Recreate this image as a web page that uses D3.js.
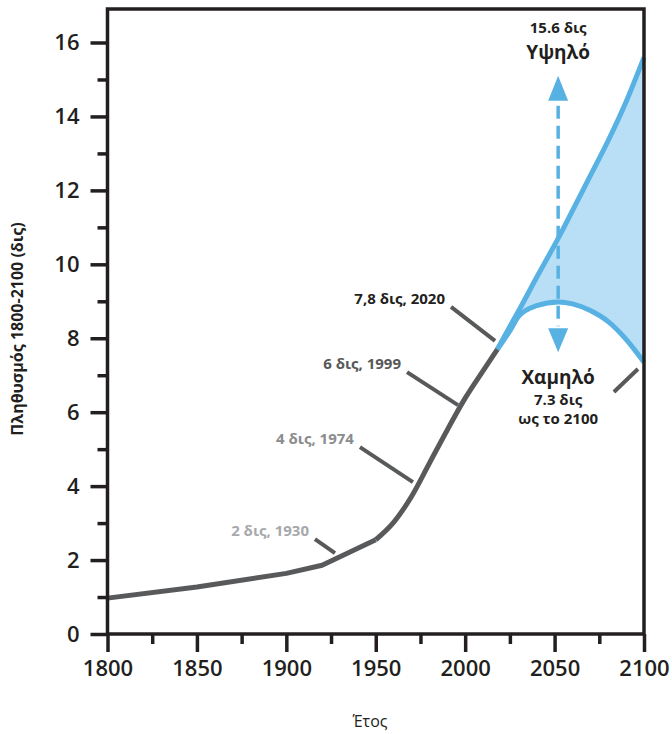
<!DOCTYPE html>
<html>
<head>
  <meta charset="utf-8">
  <title>Πληθυσμός 1800-2100</title>
  <script src="https://d3js.org/d3.v7.min.js"></script>
  <style>
    body { margin: 0; background: #fff; }
    text { font-family: "Open Sans", "Noto Sans", sans-serif; }
  </style>
</head>
<body>
  <svg id="chart"></svg>

  <script>
    // historic population (billions)
    var years = [1800, 1850, 1900, 1920, 1950, 1960, 1970, 1980, 1990, 2000, 2010, 2018];
    var population = [0.97, 1.27, 1.64, 1.86, 2.55, 3.02, 3.72, 4.62, 5.52, 6.38, 7.12, 7.7];

    // projections
    var projYears = [2018, 2025, 2030, 2040, 2052, 2060, 2070, 2080, 2090, 2100];
    var highValues = [7.7, 8.32, 8.75, 9.65, 10.7, 11.45, 12.4, 13.35, 14.4, 15.6];
    var lowValues = [7.7, 8.2, 8.6, 8.88, 8.98, 8.93, 8.75, 8.45, 7.97, 7.35];

    var yMajorTicks = [0, 2, 4, 6, 8, 10, 12, 14, 16];
    var yMinorTicks = [1, 3, 5, 7, 9, 11, 13, 15];
    var xMajorTicks = [1800, 1850, 1900, 1950, 2000, 2050, 2100];
    var xMinorTicks = [1825, 1875, 1925, 1975, 2025, 2075];

    // callouts: label, colour, where the leader touches the line [year, value]
    var calloutLabels = ["2 δις, 1930", "4 δις, 1974", "6 δις, 1999", "7,8 δις, 2020"];
    var calloutColors = ["#a7a9ac", "#8a8c8e", "#58595b", "#231f20"];
    var calloutYears = [1927.2, 1970.8, 1996, 2016.7];
    var calloutValues = [2.19, 4.11, 6.19, 7.93];

    var width = 672, height = 734;
    var axisColor = "#231f20";
    var histColor = "#58595b";
    var blue = "#58b1e3";
    var fillBlue = "#b8dff5";

    var svg = d3.select("#chart")
      .attr("width", width)
      .attr("height", height);

    var x = d3.scaleLinear().domain([1800, 2100]).range([107.5, 644]);
    var y = d3.scaleLinear().domain([0, 16]).range([634, 42.5]);
    var frameTop = 9;

    // projection band
    var band = projYears.map((d, i) => ({ year: d, hi: highValues[i], lo: lowValues[i] }));

    svg.append("path")
      .datum(band)
      .attr("fill", fillBlue)
      .attr("d", d3.area()
        .curve(d3.curveMonotoneX)
        .x(d => x(d.year))
        .y0(d => y(d.lo))
        .y1(d => y(d.hi)));

    var projLine = d3.line().curve(d3.curveMonotoneX).x(d => x(d.year));

    svg.append("path")
      .datum(band)
      .attr("fill", "none")
      .attr("stroke", blue)
      .attr("stroke-width", 5)
      .attr("d", projLine.y(d => y(d.hi)));

    svg.append("path")
      .datum(band)
      .attr("fill", "none")
      .attr("stroke", blue)
      .attr("stroke-width", 5)
      .attr("d", projLine.y(d => y(d.lo)));

    // historic line: straight runs up to 1950, smooth after
    var hist = years.map((d, i) => ({ year: d, value: population[i] }));
    var early = hist.filter(d => d.year <= 1950);
    var late = hist.filter(d => d.year >= 1950);

    svg.append("path")
      .datum(early)
      .attr("fill", "none")
      .attr("stroke", histColor)
      .attr("stroke-width", 5)
      .attr("stroke-linejoin", "round")
      .attr("d", d3.line().x(d => x(d.year)).y(d => y(d.value)));

    svg.append("path")
      .datum(late)
      .attr("fill", "none")
      .attr("stroke", histColor)
      .attr("stroke-width", 5)
      .attr("stroke-linejoin", "round")
      .attr("d", d3.line().curve(d3.curveMonotoneX).x(d => x(d.year)).y(d => y(d.value)));

    // dashed double arrow
    var arrowX = x(2052);
    var topTip = y(15.1), botTip = y(7.62);
    svg.append("line")
      .attr("x1", arrowX).attr("x2", arrowX)
      .attr("y1", topTip + 30).attr("y2", botTip - 26)
      .attr("stroke", blue)
      .attr("stroke-width", 3.5)
      .attr("stroke-dasharray", "13,7");
    svg.append("path")
      .attr("fill", blue)
      .attr("d", "M" + arrowX + "," + topTip + "L" + (arrowX + 10) + "," + (topTip + 25) +
        "L" + (arrowX - 10) + "," + (topTip + 25) + "Z");
    svg.append("path")
      .attr("fill", blue)
      .attr("d", "M" + arrowX + "," + botTip + "L" + (arrowX + 10) + "," + (botTip - 24) +
        "L" + (arrowX - 10) + "," + (botTip - 24) + "Z");

    // scenario labels
    function label(txt, ty, size) {
      svg.append("text")
        .attr("x", arrowX).attr("y", ty)
        .attr("text-anchor", "middle")
        .style("font-size", size + "px").style("font-weight", 700)
        .attr("fill", axisColor)
        .text(txt);
    }
    label("15.6 δις", 33, 15);
    label("Υψηλό", 59, 19);
    label("Χαμηλό", 384, 19);
    label("7.3 δις", 405, 15);
    label("ως το 2100", 424, 15);

    // leader for low scenario
    svg.append("line")
      .attr("x1", x(2096.6) - 24).attr("y1", y(7.17) + 23)
      .attr("x2", x(2096.6)).attr("y2", y(7.17))
      .attr("stroke", histColor)
      .attr("stroke-width", 4);

    // callouts with leaders
    var leaderOffsets = [[-20, -14], [-53, -35], [-51, -33], [-44, -34]];
    calloutLabels.forEach(function(txt, i) {
      var ex = x(calloutYears[i]), ey = y(calloutValues[i]);
      var sx = ex + leaderOffsets[i][0], sy = ey + leaderOffsets[i][1];
      svg.append("line")
        .attr("x1", sx).attr("y1", sy)
        .attr("x2", ex).attr("y2", ey)
        .attr("stroke", histColor)
        .attr("stroke-width", 4);
      svg.append("text")
        .attr("x", sx - 6).attr("y", sy - 3)
        .attr("text-anchor", "end")
        .style("font-size", "15px").style("font-weight", 700)
        .attr("fill", calloutColors[i])
        .text(txt);
    });

    // axes
    var yMajor = svg.append("g")
      .attr("transform", "translate(" + x(1800) + ",0)")
      .call(d3.axisLeft(y).tickValues(yMajorTicks).tickSize(17).tickPadding(11).tickSizeOuter(0));
    var yMinor = svg.append("g")
      .attr("transform", "translate(" + x(1800) + ",0)")
      .call(d3.axisLeft(y).tickValues(yMinorTicks).tickSize(10).tickFormat("").tickSizeOuter(0));
    var xMajor = svg.append("g")
      .attr("transform", "translate(0," + y(0) + ")")
      .call(d3.axisBottom(x).tickValues(xMajorTicks).tickSize(18).tickPadding(8).tickFormat(d3.format("d")).tickSizeOuter(0));
    var xMinor = svg.append("g")
      .attr("transform", "translate(0," + y(0) + ")")
      .call(d3.axisBottom(x).tickValues(xMinorTicks).tickSize(10).tickFormat("").tickSizeOuter(0));

    [yMajor, yMinor, xMajor, xMinor].forEach(function(g) {
      g.select(".domain").remove();
      g.selectAll("line").attr("stroke", axisColor).attr("stroke-width", 3.5);
      g.selectAll("text")
        .attr("fill", axisColor)
        .style("font-family", "'Open Sans', sans-serif")
        .style("font-size", "22px")
        .style("font-weight", 600);
    });

    // frame
    svg.append("path")
      .attr("fill", "none")
      .attr("stroke", axisColor)
      .attr("stroke-width", 3.5)
      .attr("d", "M" + x(1800) + "," + y(0) + "V" + frameTop + "H" + x(2100) + "V" + y(0));
    svg.append("line")
      .attr("x1", x(1800)).attr("x2", x(2100))
      .attr("y1", y(0)).attr("y2", y(0))
      .attr("stroke", axisColor)
      .attr("stroke-width", 3.5);

    // axis titles
    svg.append("text")
      .attr("transform", "translate(23," + 329 + ") rotate(-90)")
      .attr("text-anchor", "middle")
      .style("font-size", "16px").style("font-weight", 700)
      .attr("fill", axisColor)
      .text("Πληθυσμός 1800-2100 (δις)");

    svg.append("text")
      .attr("x", 370).attr("y", 727)
      .attr("text-anchor", "middle")
      .style("font-size", "16px").style("font-weight", 500)
      .attr("fill", axisColor)
      .text("Έτος");
  </script>
</body>
</html>
